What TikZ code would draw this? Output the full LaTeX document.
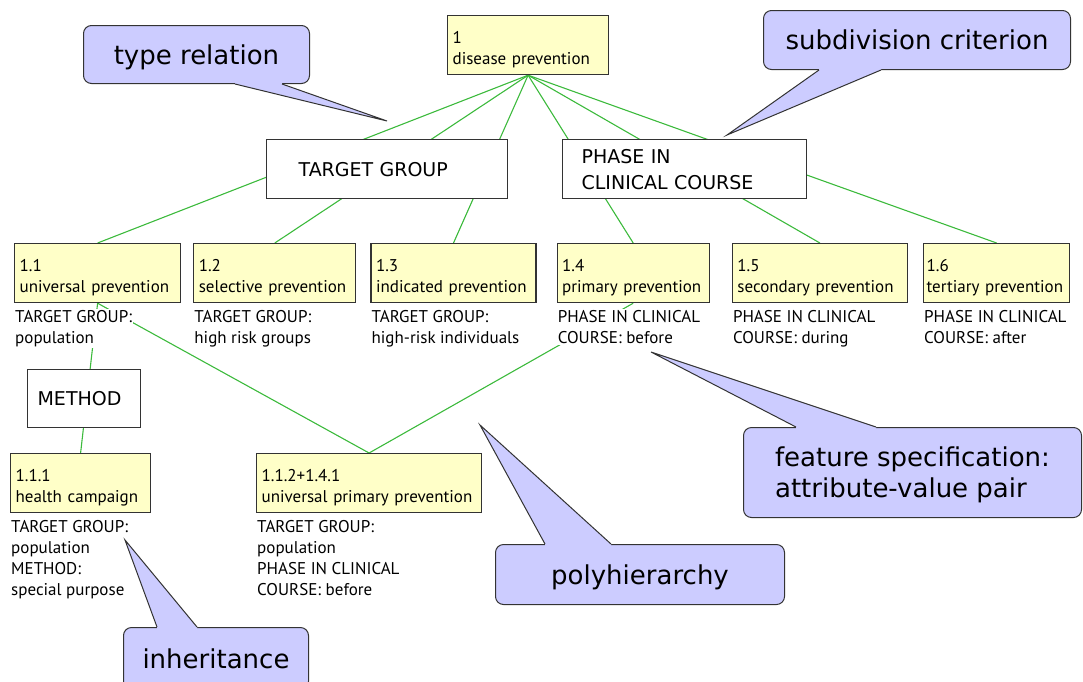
\documentclass[tikz,border=0pt]{standalone}
\usepackage{fontspec}
\setmainfont{PT Sans}
\newfontfamily\boxfont{DejaVu Sans}
\usetikzlibrary{positioning,calc,backgrounds}
\definecolor{conceptfill}{RGB}{255,255,200}
\definecolor{notefill}{RGB}{204,204,255}
\definecolor{linkgreen}{RGB}{60,186,60}
\definecolor{edgegray}{RGB}{51,51,51}
\tikzset{concept/.style   = {rectangle, draw=edgegray, fill=conceptfill, line width=1.2pt, text width=#1,
		inner xsep=5pt, minimum height=59pt, align=left, anchor=north west, font=\fontsize{17}{21}\selectfont,
		execute at begin node={\rule{0pt}{21pt}}},
	feature/.style   = {fill=white, inner sep=1pt, align=left, font=\fontsize{17}{21}\selectfont},
	criterion/.style = {rectangle, draw=edgegray, fill=white, line width=1.2pt, minimum height=59pt,
		align=left, anchor=north west, font=\boxfont\fontsize{19}{26}\selectfont},
	note/.style      = {rectangle, draw=edgegray, fill=notefill, line width=1pt, rounded corners=8pt,
		anchor=north west, text depth=0pt, font=\boxfont\fontsize{26}{31}\selectfont},
	pointer/.style   = {draw=edgegray, line width=1pt},
	link/.style      = {draw=linkgreen, line width=1.1pt}
}

\begin{document}
\begin{tikzpicture}[x=1pt, y=-1pt]
	\useasboundingbox (0,0) rectangle (1083,681);
	%% concepts
	\node [concept=151pt] (p1) at (447,15) {1\\disease prevention};
	\node [concept=156pt] (p11) at (14,243) {1.1\\universal prevention};
	\node [concept=152pt, right=12pt of p11] (p12) {1.2\\selective prevention};
	\node [concept=155pt, right=14pt of p12] (p13) {1.3\\indicated prevention};
	\node [concept=142pt, right=20pt of p13] (p14) {1.4\\primary prevention};
	\node [concept=165pt, right=22pt of p14] (p15) {1.5\\secondary prevention};
	\node [concept=140pt, inner xsep=3pt, right=15pt of p15] (p16) {1.6\\tertiary prevention};
	\node [concept=130pt] (p111) at (10,453) {1.1.1\\health campaign};
	\node [concept=215pt] (p1141) at (256,453) {1.1.2+1.4.1\\universal primary prevention};
	%% attribute-value pairs under the concepts
	\node [feature, below right=6pt and 0pt of p11.south west] (a11) {TARGET GROUP:\\population};
	\node [feature, below right=6pt and 0pt of p12.south west] (a12) {TARGET GROUP:\\high risk groups};
	\node [feature, below right=6pt and 0pt of p13.south west] (a13) {TARGET GROUP:\\high-risk individuals};
	\node [feature, below right=6pt and 0pt of p14.south west] (a14) {PHASE IN CLINICAL\\COURSE: before};
	\node [feature, below right=6pt and 0pt of p15.south west] (a15) {PHASE IN CLINICAL\\COURSE: during};
	\node [feature, below right=6pt and 0pt of p16.south west] (a16) {PHASE IN CLINICAL\\COURSE: after};
	\node [feature, below right=6pt and 0pt of p111.south west] (a111) {TARGET GROUP:\\population\\METHOD:\\special purpose};
	\node [feature, below right=6pt and 0pt of p1141.south west] (a1141) {TARGET GROUP:\\population\\PHASE IN CLINICAL\\COURSE: before};
	%% subdivision criteria
	\node [criterion, text width=177pt, inner xsep=32pt] (tg) at (266,139) {TARGET GROUP};
	\node [criterion, text width=206pt, inner xsep=19pt] (ph) at (562,139) {PHASE IN\\CLINICAL COURSE};
	\node [criterion, text width=93pt, inner xsep=10pt, minimum height=58pt] (mt) at (27,369) {METHOD};
	%% the links, behind the boxes
	\begin{scope}[on background layer]
		\foreach \c in {p11,p12,p13,p14,p15,p16}
			\path [link] (p1.south) -- (\c.north);
		\path [link] (p11.south) -- (p111.north);
		\path [link] (p11.south) -- (p1141.north);
		\path [link] (p14.south) -- (p1141.north);
	\end{scope}
	%% callouts
	\node [note, minimum width=226pt, minimum height=58pt] (n1) at (83,25) {type relation};
	\node [note, minimum width=307pt, minimum height=59pt] (n2) at (763,10) {subdivision criterion};
	\node [note, minimum width=338pt, minimum height=90pt, align=left] (n3) at (743,427) {feature specification:\\attribute-value pair};
	\node [note, minimum width=289pt, minimum height=60pt] (n4) at (495,544) {polyhierarchy};
	\node [note, minimum width=185pt, minimum height=62pt] (n5) at (123,627) {inheritance};
	\coordinate (t1) at (387,121);
	\coordinate (t2) at (727,135);
	\coordinate (t3) at (651,352);
	\coordinate (t4) at (480,425);
	\coordinate (t5) at (125,540);
	%% tails: fill over the border, then the two sides
	\fill [notefill] ($(n1.south west)+(152,-2)$) -- ($(n1.south west)+(152,0)$) -- (t1) -- ($(n1.south west)+(199,0)$) -- ($(n1.south west)+(199,-2)$) -- cycle;
	\path [pointer] ($(n1.south west)+(152,0)$) -- (t1) -- ($(n1.south west)+(199,0)$);
	\fill [notefill] ($(n2.south west)+(56,-2)$) -- ($(n2.south west)+(56,0)$) -- (t2) -- ($(n2.south west)+(118,0)$) -- ($(n2.south west)+(118,-2)$) -- cycle;
	\path [pointer] ($(n2.south west)+(56,0)$) -- (t2) -- ($(n2.south west)+(118,0)$);
	\fill [notefill] ($(n3.north west)+(53,2)$) -- ($(n3.north west)+(53,0)$) -- (t3) -- ($(n3.north west)+(133,0)$) -- ($(n3.north west)+(133,2)$) -- cycle;
	\path [pointer] ($(n3.north west)+(53,0)$) -- (t3) -- ($(n3.north west)+(133,0)$);
	\fill [notefill] ($(n4.north west)+(50,2)$) -- ($(n4.north west)+(50,0)$) -- (t4) -- ($(n4.north west)+(116,0)$) -- ($(n4.north west)+(116,2)$) -- cycle;
	\path [pointer] ($(n4.north west)+(50,0)$) -- (t4) -- ($(n4.north west)+(116,0)$);
	\fill [notefill] ($(n5.north west)+(34,2)$) -- ($(n5.north west)+(34,0)$) -- (t5) -- ($(n5.north west)+(74,0)$) -- ($(n5.north west)+(74,2)$) -- cycle;
	\path [pointer] ($(n5.north west)+(34,0)$) -- (t5) -- ($(n5.north west)+(74,0)$);
\end{tikzpicture}
\end{document}
